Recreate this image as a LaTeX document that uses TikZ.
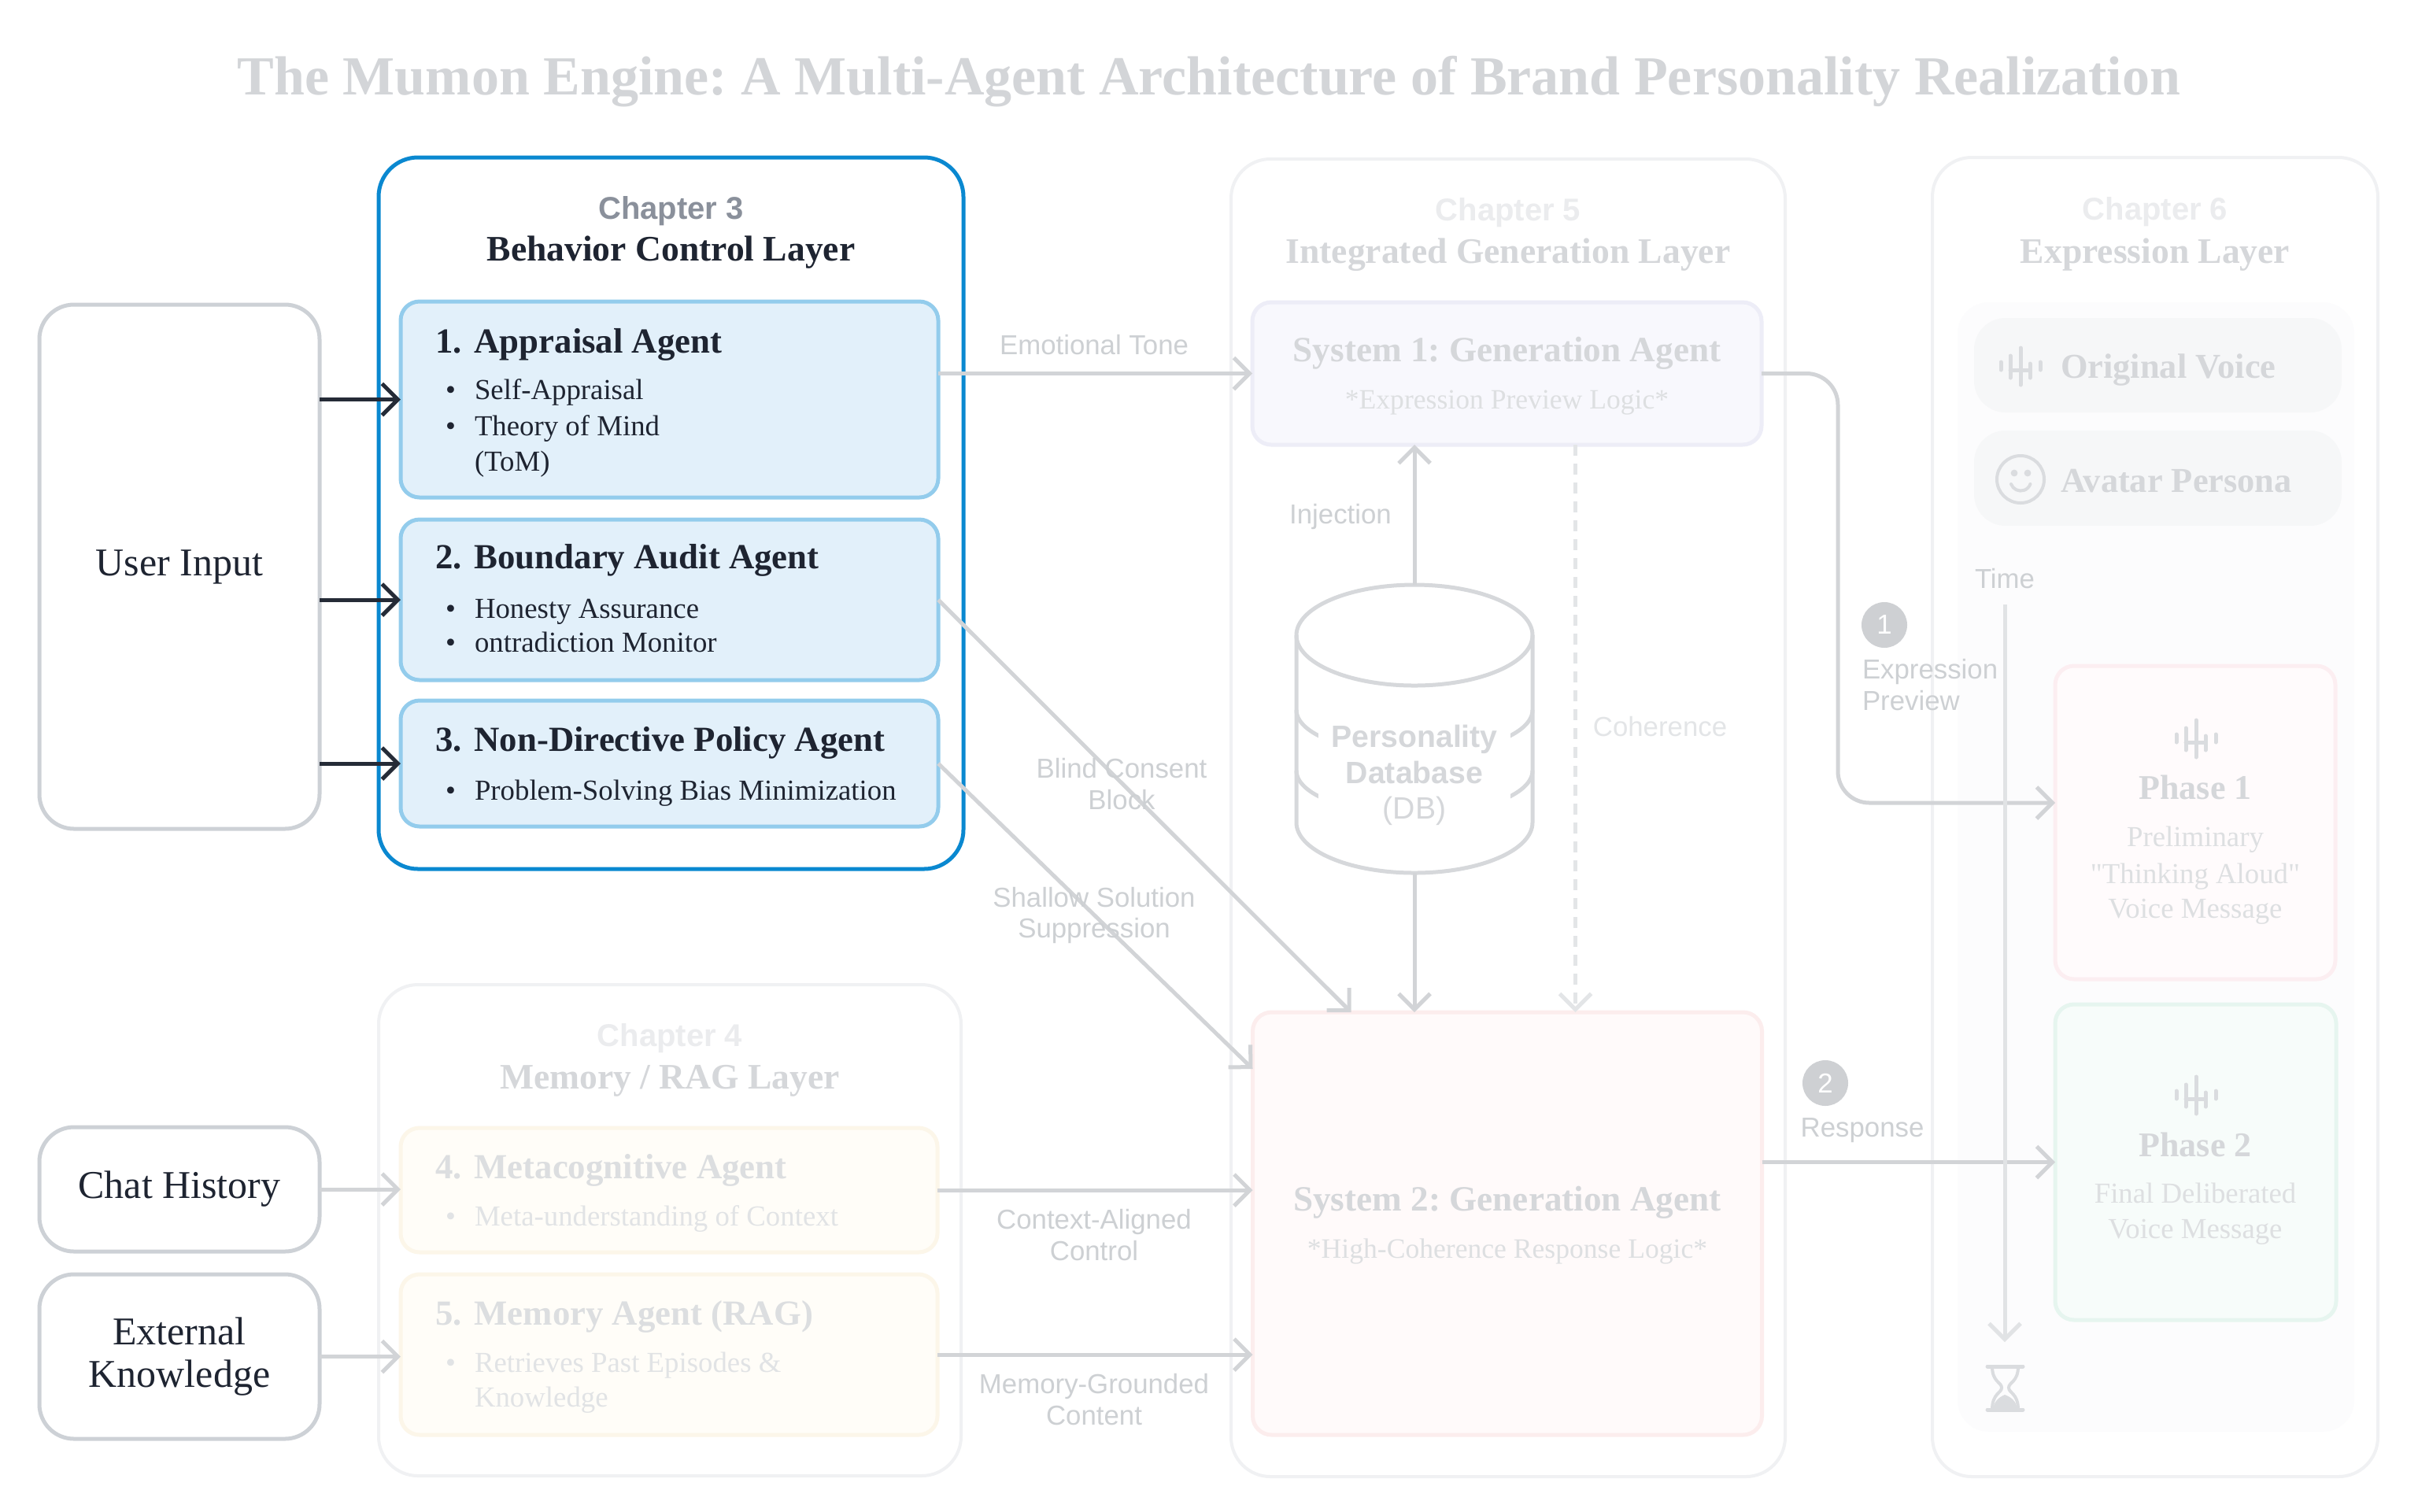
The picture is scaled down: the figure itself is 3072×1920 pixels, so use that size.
\documentclass[tikz,border=0pt]{standalone}
\usepackage{fontspec}
\setmainfont{Liberation Serif}
\setsansfont{Liberation Sans}
\usetikzlibrary{arrows.meta}
\frenchspacing

\definecolor{titlegray}{HTML}{D3D5D8}
\definecolor{inkdark}{HTML}{1E2431}
\definecolor{chapgray}{HTML}{8A909B}
\definecolor{blueedge}{HTML}{0A88D0}
\definecolor{agentfill}{HTML}{E2F0FA}
\definecolor{agentedge}{HTML}{93CCEC}
\definecolor{inputedge}{HTML}{CDD1D6}
\definecolor{arrowdark}{HTML}{252B37}
\definecolor{fadeline}{HTML}{D2D4D7}
\definecolor{fadelabel}{HTML}{CDD0D3}
\definecolor{fadehead}{HTML}{D5D7DA}
\definecolor{fadefaint}{HTML}{EBECEE}
\definecolor{fadesub}{HTML}{DDDFE1}
\definecolor{chapedge}{HTML}{F0F1F3}
\definecolor{sysonefill}{HTML}{F8F8FD}
\definecolor{sysoneedge}{HTML}{EDEDF7}
\definecolor{systwofill}{HTML}{FFFAFA}
\definecolor{systwoedge}{HTML}{FCEDED}
\definecolor{memfill}{HTML}{FFFDF8}
\definecolor{memedge}{HTML}{FCF6E9}
\definecolor{memhead}{HTML}{DCDEE0}
\definecolor{memsub}{HTML}{E1E3E5}
\definecolor{phonefill}{HTML}{FFFBFC}
\definecolor{phoneedge}{HTML}{FCEEF1}
\definecolor{phtwofill}{HTML}{F7FCFA}
\definecolor{phtwoedge}{HTML}{E6F5EF}
\definecolor{cardfill}{HTML}{F6F7F8}
\definecolor{panelfill}{HTML}{FCFCFD}
\definecolor{badgefill}{HTML}{CED0D3}
\definecolor{iconcol}{HTML}{DADCDF}
\definecolor{dbline}{HTML}{D6D8DB}
\definecolor{dashline}{HTML}{E3E5E7}
\definecolor{timeline}{HTML}{E1E3E5}

\tikzset{
  pics/waveicon/.style={code={
    \draw[line cap=round, line width=1.25pt]
      (-25,-5) -- (-25,5) (-13,-13) -- (-13,15) (0,-23) -- (0,24)
      (12,-3) -- (12,15) (25,-5) -- (25,5) (-13,5) -- (12,5);
  }},
}

\begin{document}
\begin{tikzpicture}[x=0.25pt,y=-0.25pt,
    every node/.style={inner sep=0pt,outer sep=0pt},
    layerbox/.style={draw=chapedge,line width=1pt,rounded corners=12.5pt},
    agentbox/.style={draw=agentedge,fill=agentfill,line width=1.25pt,rounded corners=6pt,minimum width=170.75pt},
    memagent/.style={draw=memedge,fill=memfill,line width=1.25pt,rounded corners=6pt,minimum width=170.5pt},
    genbox/.style={line width=1.25pt,rounded corners=6pt,minimum width=161.75pt},
    inbox/.style={draw=inputedge,line width=1.25pt,rounded corners=11pt,minimum width=89pt,
        align=center,text=inkdark,font=\fontsize{12.5}{13.5}\selectfont},
    chaplbl/.style={anchor=base,font=\sffamily\bfseries\fontsize{10}{12}\selectfont},
    layerlbl/.style={anchor=base,font=\bfseries\fontsize{11.4}{14}\selectfont},
    agtitle/.style={anchor=base west,text=inkdark,font=\bfseries\fontsize{11.2}{13}\selectfont},
    agitem/.style={anchor=base west,text=inkdark,font=\fontsize{9.2}{11}\selectfont},
    gentitle/.style={anchor=base,text=fadehead,font=\bfseries\fontsize{11.3}{13}\selectfont},
    gensub/.style={anchor=base,text=fadesub,font=\fontsize{8.9}{11}\selectfont},
    phtitle/.style={anchor=base,text=fadehead,font=\bfseries\fontsize{11}{13}\selectfont},
    phsub/.style={anchor=base,text=fadesub,font=\fontsize{9.2}{11}\selectfont},
    cardtxt/.style={anchor=base west,text=fadehead,font=\bfseries\fontsize{11.1}{13}\selectfont},
    flowlbl/.style={font=\sffamily\fontsize{8.7}{9.8}\selectfont,text=fadelabel,align=center},
    darrow/.style={draw=arrowdark,line width=1.25pt,-{Straight Barb[length=5pt,width=10pt]}},
    garrow/.style={draw=fadeline,line width=1.25pt,-{Straight Barb[length=5pt,width=10pt]}},
    badge/.style={circle,fill=badgefill,minimum size=14.5pt,text=white,font=\sffamily\fontsize{8.7}{10}\selectfont}]

    \fill[white] (0,0) rectangle (3072,1920);
    \useasboundingbox (0,0) rectangle (3072,1920);

    \node[anchor=base,text=titlegray,font=\bfseries\fontsize{17.5}{21}\selectfont] (title) at (1536,120)
        {The Mumon Engine: A Multi-Agent Architecture of Brand Personality Realization};

    % layers
    \node[layerbox,draw=blueedge,line width=1.25pt,minimum width=185.75pt,minimum height=226pt] (ch3) at (852.5,652) {};
    \node[layerbox,minimum width=185pt,minimum height=156pt] (ch4) at (851,1563) {};
    \node[layerbox,minimum width=176pt,minimum height=418.5pt] (ch5) at (1916,1039) {};
    \node[layerbox,minimum width=141.5pt,minimum height=419pt] (ch6) at (2738,1038) {};
    \node[fill=panelfill,rounded corners=10pt,minimum width=126pt,minimum height=358.75pt] (panel) at (2739,1101.5) {};

    % inputs
    \node[inbox,minimum height=166.5pt] (user) at (228,720) {User Input};
    \node[inbox,minimum height=39.5pt] (chat) at (228,1511) {Chat History};
    \node[inbox,minimum height=52.25pt] (extk) at (228,1723.5) {External\\Knowledge};

    % agents
    \node[agentbox,minimum height=62.25pt] (a1) at (850.5,507.5) {};
    \node[agentbox,minimum height=51pt] (a2) at (850.5,762) {};
    \node[agentbox,minimum height=40pt] (a3) at (850.5,970) {};
    \node[memagent,minimum height=39.5pt] (a4) at (850,1512) {};
    \node[memagent,minimum height=51pt] (a5) at (850,1721) {};

    % generation
    \node[genbox,draw=sysoneedge,fill=sysonefill,minimum height=45.25pt] (sys1) at (1914.5,474.5) {};
    \node[genbox,draw=systwoedge,fill=systwofill,minimum height=134.25pt] (sys2) at (1915,1554.5) {};

    % expression
    \node[fill=cardfill,rounded corners=10pt,minimum width=116.75pt,minimum height=30pt] (voice) at (2741.5,464) {};
    \node[fill=cardfill,rounded corners=10pt,minimum width=116.75pt,minimum height=30.25pt] (avatar) at (2741.5,607.5) {};
    \node[draw=phoneedge,fill=phonefill,line width=1.25pt,rounded corners=6pt,minimum width=89pt,minimum height=99.5pt] (ph1) at (2789,1045) {};
    \node[draw=phtwoedge,fill=phtwofill,line width=1.25pt,rounded corners=6pt,minimum width=89.25pt,minimum height=100.25pt] (ph2) at (2789.5,1476.5) {};

    % database
    \draw[dbline,line width=1.25pt,fill=white] (1647,807) -- (1647,1045)
        arc[start angle=180,end angle=360,x radius=37.5pt,y radius=16pt] -- (1947,807)
        arc[start angle=0,end angle=180,x radius=37.5pt,y radius=16pt] -- cycle;
    \draw[dbline,line width=1.25pt] (1647,807) arc[start angle=180,end angle=360,x radius=37.5pt,y radius=16pt];
    \draw[dbline,line width=1.25pt] (1647,902) arc[start angle=180,end angle=360,x radius=37.5pt,y radius=14pt];
    \draw[dbline,line width=1.25pt] (1647,979) arc[start angle=180,end angle=360,x radius=37.5pt,y radius=14pt];
    \coordinate (dbtop) at (1797,743);
    \coordinate (dbbot) at (1797,1109);
    \node[fill=white,inner sep=4pt,align=center,text=fadehead,font=\sffamily\fontsize{9.8}{11.3}\selectfont] (db) at (1797,985)
        {{\bfseries Personality}\\{\bfseries Database}\\(DB)};

    % icons
    \pic[color=iconcol] (wv) at (2567,465) {waveicon};
    \pic[color=iconcol] (wa) at (2790,938) {waveicon};
    \pic[color=iconcol] (wb) at (2790,1391) {waveicon};
    \draw[iconcol,line width=1pt] (2567,609) circle[radius=7.5pt];
    \fill[iconcol] (2559,601) circle[radius=1.1pt] (2576,601) circle[radius=1.1pt];
    \draw[iconcol,line width=1pt,line cap=round] (2555,615) arc[start angle=200,end angle=340,radius=3.25pt];
    \draw[iconcol,line width=1.25pt,line cap=round] (2525,1736) -- (2570,1736) (2525,1791) -- (2570,1791);
    \draw[iconcol,line width=1pt] (2531,1736) .. controls (2531,1756) and (2543,1756) .. (2543,1763)
        .. controls (2543,1770) and (2531,1770) .. (2531,1791)
        (2564,1736) .. controls (2564,1756) and (2552,1756) .. (2552,1763)
        .. controls (2552,1770) and (2564,1770) .. (2564,1791);
    \fill[iconcol] (2547,1772) .. controls (2540,1775) and (2533,1780) .. (2532,1791) -- (2563,1791)
        .. controls (2562,1780) and (2555,1775) .. (2547,1772);
    \node[badge] (b1) at (2394,794) {1};
    \node[badge] (b2) at (2319,1376) {2};

    % connectors
    \draw[darrow] (user.east |- a1.west) -- (a1.west);
    \draw[darrow] (user.east |- a2.west) -- (a2.west);
    \draw[darrow] (user.east |- a3.west) -- (a3.west);
    \draw[garrow] (chat.east) -- (chat.east -| a4.west);
    \draw[garrow] (extk.east) -- (extk.east -| a5.west);
    \draw[garrow] (a1.east |- sys1.west) -- (sys1.west);
    \draw[garrow] (a2.east) -- ([xshift=31.25pt]sys2.north west);
    \draw[garrow] (a3.east) -- ([yshift=-18pt]sys2.north west);
    \draw[garrow] (a4.east) -- (a4.east -| sys2.west);
    \draw[garrow] (a5.east) -- (a5.east -| sys2.west);
    \draw[garrow] (dbtop) -- (dbtop |- sys1.south);
    \draw[garrow] (dbbot) -- (dbbot |- sys2.north);
    \draw[garrow,draw=dashline,dash pattern=on 3.5pt off 2.5pt] ([xshift=21.75pt]sys1.south) -- ([xshift=21.75pt]sys1.south |- sys2.north);
    \coordinate (bend) at (2335,1020);
    \draw[garrow,rounded corners=10pt] (sys1.east) -| (bend) -- (bend -| ph1.west);
    \draw[garrow] (ph2.west -| sys2.east) -- (ph2.west);
    \coordinate (t0) at (2547,768);
    \coordinate (t1) at (2547,1705);
    \draw[garrow,draw=timeline] (t0) -- (t1);

    % labels
    \node[flowlbl,anchor=base] (l1) at (1390,450) {Emotional Tone};
    \node[flowlbl,anchor=base] (l2) at (1703,665) {Injection};
    \node[flowlbl,anchor=base,text=dashline] (l3) at (2109,935) {Coherence};
    \node[flowlbl] (l4) at (1425,996) {Blind Consent\\Block};
    \node[flowlbl] (l5) at (1390,1163) {Shallow Solution\\Suppression};
    \node[flowlbl] (l6) at (1390,1569) {Context-Aligned\\Control};
    \node[flowlbl] (l7) at (1390,1778) {Memory-Grounded\\Content};
    \node[flowlbl,anchor=base] (l8) at (2547,747) {Time};
    \node[flowlbl,anchor=west,align=left] (l9) at (2366,870) {Expression\\Preview};
    \node[flowlbl,anchor=base] (l10) at (2366,1444) {Response};

    % headings
    \node[chaplbl,text=chapgray] (c3a) at (852.5,278) {Chapter 3};
    \node[layerlbl,text=inkdark] (c3b) at (852.5,331) {Behavior Control Layer};
    \node[chaplbl,text=fadefaint] (c4a) at (851,1329) {Chapter 4};
    \node[layerlbl,text=fadehead] (c4b) at (851,1383) {Memory / RAG Layer};
    \node[chaplbl,text=fadefaint] (c5a) at (1916,280) {Chapter 5};
    \node[layerlbl,text=fadehead] (c5b) at (1916,334) {Integrated Generation Layer};
    \node[chaplbl,text=fadefaint] (c6a) at (2738,279) {Chapter 6};
    \node[layerlbl,text=fadehead] (c6b) at (2738,334) {Expression Layer};

    % agent texts
    \node[agtitle] (t1) at (553,448) {1.\hspace{4pt}Appraisal Agent};
    \node[agitem] (t1a) at (603,507) {\llap{\textbullet\hspace{6pt}}Self-Appraisal};
    \node[agitem] (t1b) at (603,553) {\llap{\textbullet\hspace{6pt}}Theory of Mind};
    \node[agitem] (t1c) at (603,598) {(ToM)};
    \node[agtitle] (t2) at (553,722) {2.\hspace{4pt}Boundary Audit Agent};
    \node[agitem] (t2a) at (603,785) {\llap{\textbullet\hspace{6pt}}Honesty Assurance};
    \node[agitem] (t2b) at (603,828) {\llap{\textbullet\hspace{6pt}}ontradiction Monitor};
    \node[agtitle] (t3) at (553,954) {3.\hspace{4pt}Non-Directive Policy Agent};
    \node[agitem] (t3a) at (603,1016) {\llap{\textbullet\hspace{6pt}}Problem-Solving Bias Minimization};
    \node[agtitle,text=memhead] (t4) at (553,1497) {4.\hspace{4pt}Metacognitive Agent};
    \node[agitem,text=memsub] (t4a) at (603,1557) {\llap{\textbullet\hspace{6pt}}Meta-understanding of Context};
    \node[agtitle,text=memhead] (t5) at (553,1683) {5.\hspace{4pt}Memory Agent (RAG)};
    \node[agitem,text=memsub] (t5a) at (603,1743) {\llap{\textbullet\hspace{6pt}}Retrieves Past Episodes \&};
    \node[agitem,text=memsub] (t5b) at (603,1787) {Knowledge};

    % generation texts
    \node[gentitle] (s1t) at (1914.5,459) {System 1: Generation Agent};
    \node[gensub] (s1s) at (1914.5,519) {*Expression Preview Logic*};
    \node[gentitle] (s2t) at (1915,1538) {System 2: Generation Agent};
    \node[gensub] (s2s) at (1915,1598) {*High-Coherence Response Logic*};

    % expression texts
    \node[cardtxt] (vt) at (2618,480) {Original Voice};
    \node[cardtxt] (avt) at (2618,625) {Avatar Persona};
    \node[phtitle] (p1t) at (2789,1015) {Phase 1};
    \node[phsub] (p1a) at (2789,1075) {Preliminary};
    \node[phsub] (p1b) at (2789,1122) {\textquotedbl Thinking Aloud\textquotedbl};
    \node[phsub] (p1c) at (2789,1166) {Voice Message};
    \node[phtitle] (p2t) at (2789,1469) {Phase 2};
    \node[phsub] (p2a) at (2789,1528) {Final Deliberated};
    \node[phsub] (p2b) at (2789,1573) {Voice Message};
\end{tikzpicture}
\end{document}
